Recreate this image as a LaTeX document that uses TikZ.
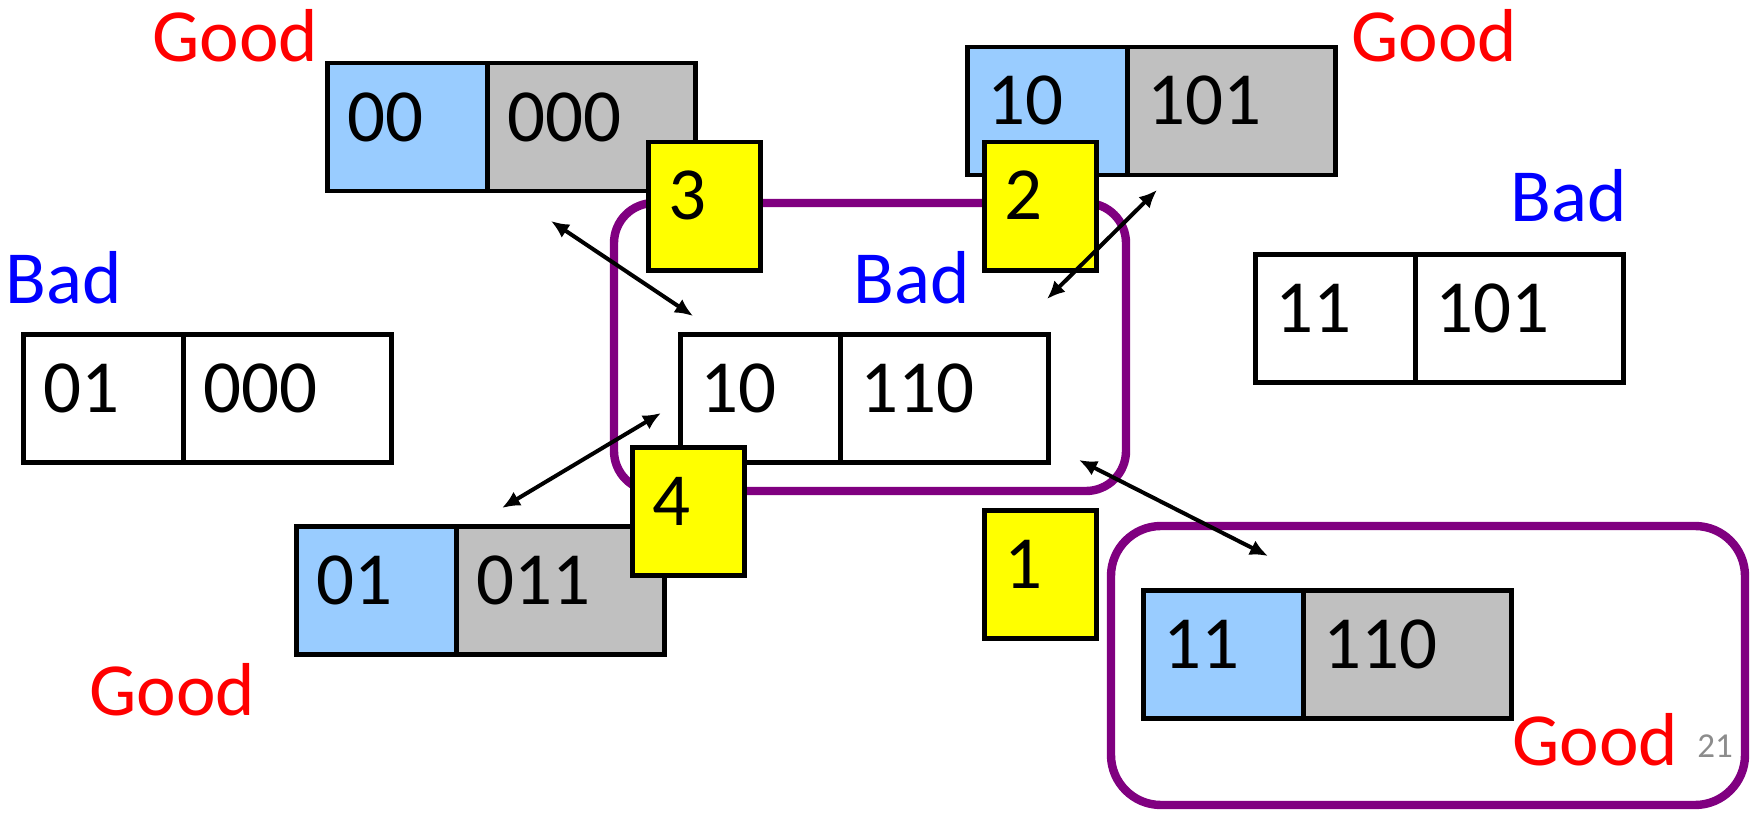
\documentclass[tikz,border=0pt]{standalone}
\usepackage{fontspec}
\setmainfont{Carlito}
\usetikzlibrary{arrows.meta}
\definecolor{lblue}{HTML}{99CCFF}
\definecolor{lgray}{HTML}{C0C0C0}
\definecolor{purp}{HTML}{800080}
\definecolor{numgray}{HTML}{8C8C8C}
\definecolor{ylw}{HTML}{FFFF00}
\tikzset{
  cell/.style={draw=black, line width=2.25pt, minimum height=64pt, inner sep=0pt, anchor=north west},
  ybox/.style={cell, fill=ylw, minimum width=56pt},
  txt/.style={anchor=base west, inner sep=0pt, font=\fontsize{37.5}{41}\selectfont},
  good/.style={txt, text=red},
  bad/.style={txt, text=blue},
  purpbox/.style={draw=purp, line width=4.2pt},
  arr/.style={line width=2pt, {Latex[length=9pt,width=8pt]}-{Latex[length=9pt,width=8pt]}},
}
\newcommand\cellpair[7]{%
  \node[cell, fill=#4, minimum width=80pt] (#1L) at (#2,#3) {};
  \node[cell, fill=#5, minimum width=104pt] (#1R) at (#2+160,#3) {};
  \node[txt] (#1Lt) at (#2+22,#3+80) {#6};
  \node[txt] (#1Rt) at (#2+182,#3+80) {#7};
}
\begin{document}
\begin{tikzpicture}[x=0.5pt,y=-0.5pt]
\useasboundingbox (0,0) rectangle (1758,813);
% cell pairs
\cellpair{A}{325}{61}{lblue}{lgray}{00}{000}
\cellpair{B}{965}{45}{lblue}{lgray}{10}{101}
\cellpair{C}{1253}{252}{white}{white}{11}{101}
\cellpair{D}{21}{332}{white}{white}{01}{000}
\cellpair{E}{678}{332}{white}{white}{10}{110}
\cellpair{F}{294}{524}{lblue}{lgray}{01}{011}
\cellpair{G}{1141}{588}{lblue}{lgray}{11}{110}
% purple groups
\draw[purpbox, rounded corners=20pt] (614,203) rectangle (1126,491);
\draw[purpbox, rounded corners=25pt] (1111,526) rectangle (1745,805);
% yellow numbers
\node[ybox] (y3) at (646,140) {};
\node[txt] (y3t) at (668,220) {3};
\node[ybox] (y2) at (982,140) {};
\node[txt] (y2t) at (1004,220) {2};
\node[ybox] (y4) at (630,445) {};
\node[txt] (y4t) at (652,525) {4};
\node[ybox] (y1) at (982,508) {};
\node[txt] (y1t) at (1004,588) {1};
% arrows
\coordinate (a3s) at (551,221);
\coordinate (a3e) at (693,316);
\coordinate (a2s) at (1157,190);
\coordinate (a2e) at (1047,299);
\coordinate (a4s) at (661,413);
\coordinate (a4e) at (502,508);
\coordinate (a1s) at (1079,460);
\coordinate (a1e) at (1268,556);
\draw[arr] (a3s) -- (a3e);
\draw[arr] (a2s) -- (a2e);
\draw[arr] (a4s) -- (a4e);
\draw[arr] (a1s) -- (a1e);
% labels
\node[good] (g1) at (152,62) {Good};
\node[good] (g2) at (1351,62) {Good};
\node[bad] (b1) at (1510,221) {Bad};
\node[bad] (b2) at (5,303) {Bad};
\node[bad] (b3) at (853,303) {Bad};
\node[good] (g3) at (89,715) {Good};
\node[good] (g4) at (1512,765) {Good};
\node[anchor=base west, inner sep=0pt, text=numgray, font=\fontsize{17.5}{20}\selectfont] (pg) at (1697,757) {21};
\end{tikzpicture}
\end{document}
